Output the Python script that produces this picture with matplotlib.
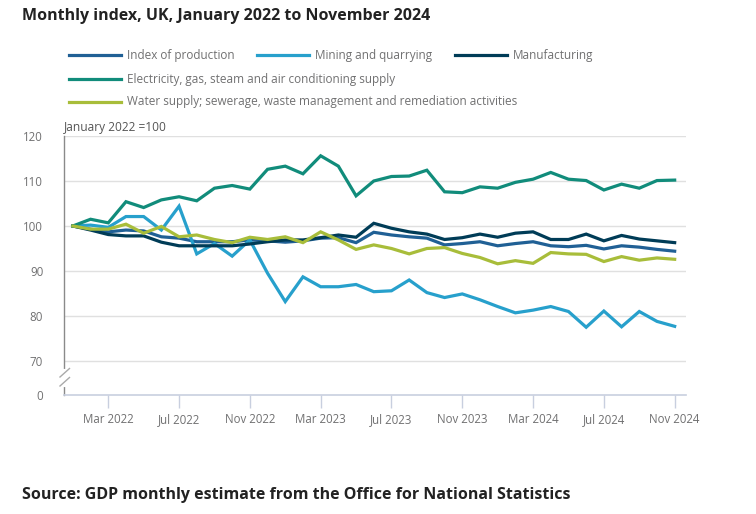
import numpy as np
import matplotlib
matplotlib.use("Agg")
import matplotlib.pyplot as plt
from matplotlib.lines import Line2D

# ---------- data (Jan 2022 = 100) ----------
months = np.arange(35)  # Jan 2022 .. Nov 2024
tick_pos = [2, 6, 10, 14, 18, 22, 26, 30, 34]
tick_labels = ['Mar 2022', 'Jul 2022', 'Nov 2022', 'Mar 2023', 'Jul 2023',
               'Nov 2023', 'Mar 2024', 'Jul 2024', 'Nov 2024']

production = [100, 99.3, 98.7, 99.1, 98.9, 97.6, 97.3, 96.5, 96.5, 96.5, 96.9, 96.7,
              96.4, 96.7, 97.3, 97.4, 96.3, 98.6, 98.0, 97.6, 97.3, 95.8, 96.1, 96.5,
              95.6, 96.1, 96.5, 95.6, 95.4, 95.7, 94.9, 95.6, 95.3, 94.8, 94.4]
mining = [100, 100.2, 99.7, 102.1, 102.1, 99.1, 104.4, 93.8, 96.1, 93.3, 96.9, 89.5,
          83.2, 88.7, 86.5, 86.5, 87.0, 85.4, 85.6, 88.0, 85.2, 84.1, 84.9, 83.6,
          82.1, 80.7, 81.3, 82.1, 81.0, 77.5, 81.1, 77.6, 81.0, 78.8, 77.7]
manufacturing = [100, 99.1, 98.1, 97.8, 97.8, 96.4, 95.6, 95.6, 95.6, 95.6, 96.0, 96.5,
                 96.9, 96.9, 97.4, 98.0, 97.5, 100.6, 99.5, 98.7, 98.2, 97.0, 97.4, 98.2,
                 97.5, 98.4, 98.7, 97.0, 97.0, 98.2, 96.7, 97.9, 97.1, 96.7, 96.3]
electricity = [100, 101.5, 100.7, 105.4, 104.1, 105.8, 106.5, 105.6, 108.4, 109.0, 108.2, 112.6,
               113.3, 111.6, 115.6, 113.3, 106.7, 110.0, 111.0, 111.1, 112.4, 107.6, 107.4, 108.7,
               108.4, 109.7, 110.4, 111.9, 110.4, 110.1, 108.0, 109.3, 108.4, 110.1, 110.2]
water = [100, 99.3, 99.3, 100.4, 98.4, 99.9, 97.6, 98.0, 97.0, 96.3, 97.5, 97.0,
         97.6, 96.3, 98.7, 96.9, 94.8, 95.8, 95.0, 93.8, 95.0, 95.2, 93.9, 93.0,
         91.6, 92.3, 91.7, 94.1, 93.8, 93.7, 92.1, 93.2, 92.4, 92.9, 92.6]

series = [
    ('Index of production', production, '#206095'),
    ('Mining and quarrying', mining, '#27a0cc'),
    ('Manufacturing', manufacturing, '#003c57'),
    ('Electricity, gas, steam and air conditioning supply', electricity, '#118c7b'),
    ('Water supply; sewerage, waste management and remediation activities', water, '#a8bd3a'),
]

# ---------- figure ----------
plt.rcParams['font.family'] = ['Open Sans', 'DejaVu Sans']
W, H = 756, 514
fig = plt.figure(figsize=(W / 100, H / 100), dpi=100)
ax = fig.add_axes([64 / W, 1 - 395 / H, (686 - 64) / W, (395 - 136) / H])

txt_grey = '#707071'
y_bottom = 62.44  # axis break: bottom of axis shows "0"

for name, vals, col in series:
    ax.plot(months, vals, color=col, lw=2.3, solid_joinstyle='miter', zorder=3)

ax.set_xlim(-0.5, 34.64)
ax.set_ylim(y_bottom, 120)
ax.set_yticks([y_bottom, 70, 80, 90, 100, 110, 120])
ax.set_yticklabels(['0', '70', '80', '90', '100', '110', '120'])
ax.set_xticks(tick_pos)
ax.set_xticklabels(tick_labels)
ax.tick_params(axis='y', length=0, pad=15, labelsize=8.3, labelcolor=txt_grey)
ax.tick_params(axis='x', length=9, width=1, color='#c8cfdf', pad=4,
               labelsize=8.3, labelcolor=txt_grey)

for v in [70, 80, 90, 100, 110, 120]:
    ax.axhline(v, color='#e0e0e0', lw=1, zorder=1)

for s in ['top', 'right']:
    ax.spines[s].set_visible(False)
ax.spines['left'].set_color('#8a8a8a')
ax.spines['left'].set_linewidth(1)
ax.spines['bottom'].set_color('#c8cfdf')
ax.spines['bottom'].set_linewidth(1.2)

# axis break marks on the y axis
def px(x, y):
    return x / W, 1 - y / H

fig.add_artist(Line2D(*zip(px(64, 371), px(64, 385)), color='white', lw=3, zorder=5))
for y0 in (377, 386):
    fig.add_artist(Line2D(*zip(px(60, y0), px(69.5, y0 - 8.5)), color='#aaaaaa', lw=1, zorder=6))

# unit label
fig.text(64 / W, 1 - 128 / H, 'January 2022 =100', fontsize=8.6, color='#555555',
         ha='left', va='center')

# ---------- legend ----------
legend_pos = [(69, 55), (257, 55), (455, 55), (69, 79), (69, 102)]
for (name, vals, col), (lx, ly) in zip(series, legend_pos):
    fig.add_artist(Line2D(*zip(px(lx, ly), px(lx + 52, ly)), color=col, lw=2.3))
    fig.text(*px(lx + 58, ly), name, fontsize=8.5, color=txt_grey, ha='left', va='center')

# ---------- title / source ----------
fig.text(*px(22, 16), 'Monthly index, UK, January 2022 to November 2024',
         fontsize=11.5, fontweight='bold', color='#222222', ha='left', va='center')
fig.text(*px(22, 495), 'Source: GDP monthly estimate from the Office for National Statistics',
         fontsize=11.5, fontweight='bold', color='#222222', ha='left', va='center')

fig.savefig('out.png', dpi=100)
